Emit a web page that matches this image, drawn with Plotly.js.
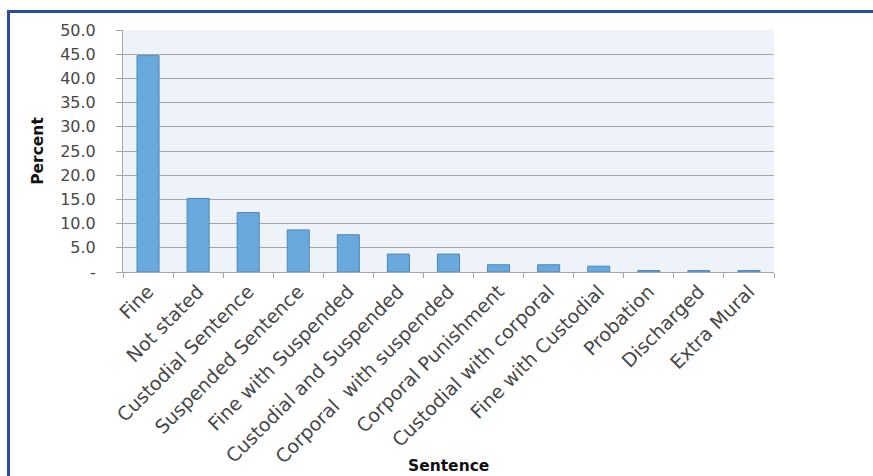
<!DOCTYPE html>
<html><head><meta charset="utf-8">
<script src="https://cdn.plot.ly/plotly-3.0.1.min.js"></script>
<style>
html,body{margin:0;padding:0;background:#fff;}
#wrap{position:relative;width:873px;height:476px;overflow:hidden;}
#chart{width:873px;height:476px;}
#frame{position:absolute;left:7px;top:10px;width:880px;height:480px;border-top:3px solid #2d4b9f;border-left:3px solid #2d4b9f;pointer-events:none;}
</style></head>
<body>
<div id="wrap"><div id="chart"></div><div id="frame"></div></div>
<script>
var categories = ["Fine","Not stated","Custodial Sentence","Suspended Sentence","Fine with Suspended","Custodial and Suspended","Corporal  with suspended","Corporal Punishment","Custodial with corporal","Fine with Custodial","Probation","Discharged","Extra Mural"];
var percent = [44.7, 15.2, 12.3, 8.7, 7.7, 3.7, 3.7, 1.5, 1.5, 1.2, 0.3, 0.3, 0.3];
var yTickVals = [0,5,10,15,20,25,30,35,40,45,50];
var yTickText = ["-","5.0","10.0","15.0","20.0","25.0","30.0","35.0","40.0","45.0","50.0"];
var xTitle = "Sentence";
var yTitle = "Percent";

var font = "'DejaVu Sans', sans-serif";
var trace = {
  type: "bar",
  x: categories,
  y: percent,
  marker: {color: "#6aa9dd", line: {color: "#4f86b8", width: 1}},
  width: 0.44,
  hoverinfo: "x+y"
};
var layout = {
  width: 873, height: 476,
  margin: {l: 123, r: 99, t: 30, b: 204},
  paper_bgcolor: "#ffffff",
  plot_bgcolor: "#eef2f9",
  showlegend: false,
  font: {family: font, color: "#444444", size: 15},
  xaxis: {
    type: "category",
    tickangle: -45,
    ticks: "outside",
    tickson: "boundaries",
    ticklen: 5,
    tickcolor: "#a6a6a6",
    showline: true,
    linecolor: "#a6a6a6",
    linewidth: 1,
    showgrid: false,
    tickfont: {family: font, size: 19, color: "#474747"},
    automargin: false
  },
  yaxis: {
    range: [0, 50],
    tickvals: yTickVals,
    ticktext: yTickText,
    ticks: "outside",
    ticklen: 6,
    tickcolor: "#a6a6a6",
    ticklabelstandoff: 17,
    showline: true,
    linecolor: "#a6a6a6",
    linewidth: 1,
    showgrid: true,
    gridcolor: "#a6a6a6",
    gridwidth: 1,
    zeroline: false,
    tickfont: {family: font, size: 16, color: "#474747"},
    title: {text: "<b>" + yTitle + "</b>", font: {family: font, size: 15.5, color: "#111111"}, standoff: 12},
    automargin: false
  },
  annotations: [{
    text: "<b>" + xTitle + "</b>",
    xref: "paper", yref: "paper", x: 0.5, y: 0,
    xanchor: "center", yanchor: "middle", yshift: -194,
    showarrow: false,
    font: {family: font, size: 15.5, color: "#111111"}
  }]
};
Plotly.newPlot("chart", [trace], layout, {displayModeBar: false, staticPlot: true});
</script>
</body></html>
